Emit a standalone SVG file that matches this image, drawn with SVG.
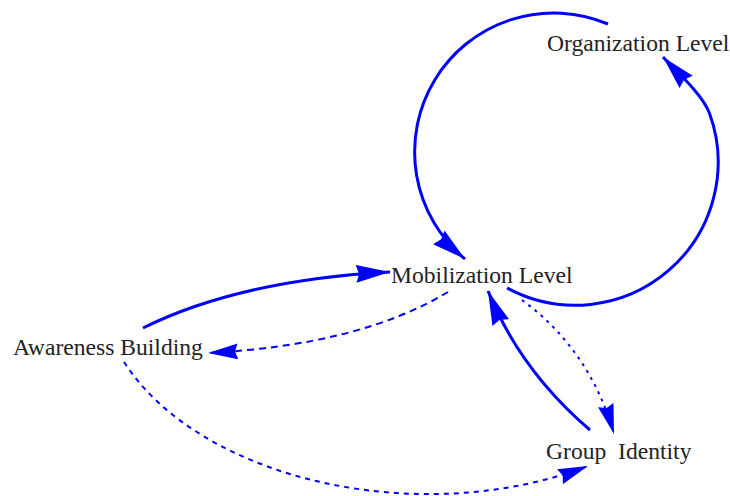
<svg xmlns="http://www.w3.org/2000/svg" width="730" height="496" viewBox="0 0 730 496">
<style>
.lbl{font-family:"Liberation Serif","Times New Roman",serif;font-size:23.6px;fill:#222;white-space:pre}
.c{fill:none;stroke:#0000ff}
.solid{stroke-width:3}
.dash{stroke-width:2;stroke-dasharray:7 5}
.dash2{stroke-width:2;stroke-dasharray:5 5}
.dot{stroke-width:2;stroke-dasharray:3 5}
</style>
<defs>
<marker id="ah" markerUnits="userSpaceOnUse" markerWidth="36" markerHeight="20" refX="34" refY="9" orient="auto" viewBox="0 0 36 20">
<path d="M0,0 L34,9 L0,18 L3,9 z" fill="#0000ff"/>
</marker>
<marker id="ahs" markerUnits="userSpaceOnUse" markerWidth="32" markerHeight="18" refX="30" refY="8" orient="auto" viewBox="0 0 32 18">
<path d="M0,0 L30,8 L0,16 L3,8 z" fill="#0000ff"/>
</marker>
</defs>
<g id="connectors">
<path class="c solid" d="M608,24 A139,139 0 0 0 465,259" marker-end="url(#ah)"/>
<path class="c solid" d="M507,288 A143,143 0 0 0 709.4,113.1 C702.6,94.3 675.2,70.1 663,57" marker-end="url(#ah)"/>
<path class="c solid" d="M143,328 Q240,280 390,272" marker-end="url(#ah)"/>
<path class="c dash" d="M448,292 Q360,345 208,353" marker-end="url(#ahs)"/>
<path class="c dash2" d="M124,362 C200,480 420,530 588,466" marker-end="url(#ahs)"/>
<path class="c solid" d="M590,430 Q520,370 488,291" marker-end="url(#ah)"/>
<path class="c dot" d="M522,300 Q590,350 614,434" marker-end="url(#ahs)"/>
</g>
<g id="organization-level"><text class="lbl" x="547" y="51">Organization Level</text></g>
<g id="mobilization-level"><text class="lbl" x="391" y="283">Mobilization Level</text></g>
<g id="awareness-building"><text class="lbl" x="13" y="355">Awareness Building</text></g>
<g id="group-identity"><text class="lbl" x="546" y="459" xml:space="preserve">Group  Identity</text></g>
</svg>
